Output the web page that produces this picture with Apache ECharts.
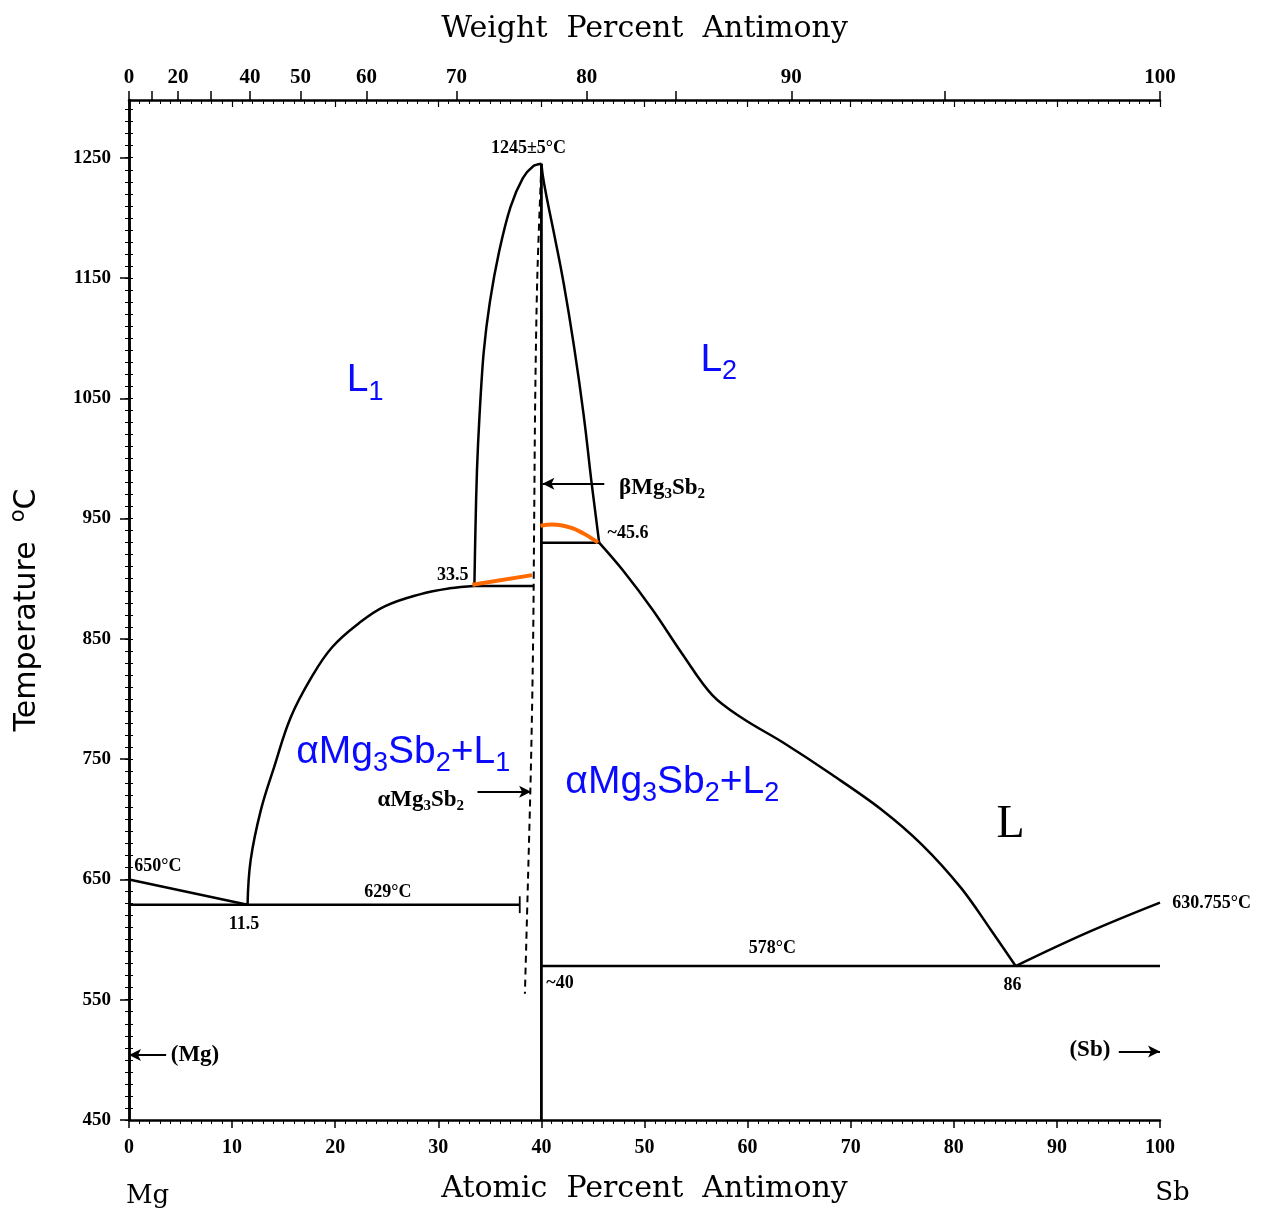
<!DOCTYPE html>
<html>
<head>
<meta charset="utf-8">
<script src="https://cdn.jsdelivr.net/npm/echarts@6/dist/echarts.min.js"></script>
<style>
html, body { margin: 0; padding: 0; background: #fff; }
#chart { width: 1267px; height: 1214px; }
</style>
</head>
<body>
<div id="chart"></div>
<script>
// phase boundaries, points are [atomic % Sb, temperature in C]
const mgLiquidus = [[0, 650], [11.5, 629]];
const eutectic629 = [[0, 629], [37.9, 629]];
const eutecticEnd = [[37.9, 622], [37.9, 636]];
const l1Liquidus = [[11.5, 629], [11.8, 666], [12.8, 708], [14.1, 744], [15.7, 785], [17.7, 818],
    [19.7, 843], [22.3, 863], [24.8, 877], [28.2, 887], [31.1, 892], [33.5, 894]];
const monotectic = [[33.5, 894], [39.3, 894]];
const domeLeft = [[33.5, 894], [33.6, 940], [33.75, 990], [34.0, 1036], [34.4, 1088], [35.0, 1130],
    [35.9, 1172], [37.0, 1209], [38.2, 1233], [39.2, 1243], [40, 1245]];
const domeRight = [[40, 1245], [40.25, 1229], [41.2, 1188], [42.15, 1146], [43.2, 1091], [44.1, 1036],
    [44.85, 981], [45.6, 930]];
const alphaBoundary = [[40, 1245], [39.6, 1150], [39.4, 1050], [39.3, 950], [39.2, 850], [39.0, 750],
    [38.7, 650], [38.4, 555]];
const compoundLine = [[40, 1245], [40, 450]];
const eutectic930 = [[40, 930], [45.6, 930]];
const l2Liquidus = [[45.6, 930], [47.9, 907], [50.8, 874], [53.7, 837], [56.6, 803], [59.5, 784],
    [63.4, 764], [68.2, 737], [73.0, 708], [76.9, 679], [80.7, 643], [83.6, 608], [86, 578]];
const eutectic578 = [[40, 578], [100, 578]];
const sbLiquidus = [[86, 578], [93, 606], [100, 630.755]];

// orange corrections drawn over the original
const orangeMonotectic = [[33.3, 895], [39.1, 903]];
const orangeBeta = [[39.9, 944], [41.0, 945], [41.9, 944.5], [43.0, 942], [44.0, 938], [44.8, 934], [45.5, 930]];

// arrows: [from, to]
const arrows = [
    [[3.6, 504], [0, 504]],
    [[96.0, 507], [100, 507]],
    [[33.8, 723], [39.0, 723]],
    [[46.1, 979], [40.1, 979]]
];

// tick labels
const atLabels = [0, 10, 20, 30, 40, 50, 60, 70, 80, 90, 100];
const wtLabels = [0, 20, 40, 50, 60, 70, 80, 90, 100];
const wtTicks = [0, 10, 20, 30, 40, 50, 60, 70, 80, 85, 90, 95, 100];
const tempLabels = [450, 550, 650, 750, 850, 950, 1050, 1150, 1250];

// text on the diagram: [atomic % Sb, temperature, text]
const smallNotes = [
    [38.75, 1258, '1245±5°C'], [31.4, 903, '33.5'], [48.4, 938, '~45.6'], [2.8, 661, '650°C'],
    [11.15, 613, '11.5'], [25.1, 639, '629°C'], [62.4, 593, '578°C'], [41.8, 564, '~40'],
    [85.7, 562, '86'], [105.0, 630.5, '630.755°C']
];
const phaseNotes = [
    [51.7, 975.6, 'βMg{s|3}Sb{s|2}'], [28.3, 716, 'αMg{s|3}Sb{s|2}'], [6.4, 504, '(Mg)'], [93.2, 508, '(Sb)']
];
const elementNotes = [[1.8, 387, 'Mg'], [101.2, 389, 'Sb']];
const bigNotes = [[85.5, 695, 'L']];
const blueNotes = [
    [22.9, 1065, 'L{s|1}'], [57.2, 1082, 'L{s|2}'],
    [26.6, 756, 'αMg{s|3}Sb{s|2}+L{s|1}'], [52.7, 731, 'αMg{s|3}Sb{s|2}+L{s|2}']
];

const MG = 24.305, SB = 121.76;
function wtToAt(w) {
    if (w >= 100) return 100;
    const s = w / SB, m = (100 - w) / MG;
    return 100 * s / (s + m);
}
function atToWt(a) {
    const s = a * SB, m = (100 - a) * MG;
    return 100 * s / (s + m);
}

const tempMinor = [];
for (let t = 450; t <= 1290; t += 10) tempMinor.push(t);

const black = '#000';
const blue = '#0a0aff';

function curve(data, opts) {
    opts = opts || {};
    return {
        type: 'line',
        data: data,
        symbol: 'none',
        smooth: opts.smooth || false,
        silent: true,
        z: opts.z || 3,
        lineStyle: { color: opts.color || black, width: opts.width || 2.5, type: opts.type || 'solid' }
    };
}

function notes(list, label) {
    return {
        type: 'scatter',
        clip: false,
        silent: true,
        symbolSize: 1,
        itemStyle: { color: 'rgba(0,0,0,0)', opacity: 1 },
        z: 6,
        data: list.map(n => ({ value: [n[0], n[1]], name: n[2] })),
        label: Object.assign({
            show: true,
            position: 'inside',
            align: 'center',
            verticalAlign: 'middle',
            opacity: 1,
            formatter: p => p.name
        }, label)
    };
}

const chart = echarts.init(document.getElementById('chart'));

const option = {
    animation: false,
    grid: { left: 129, right: 107, top: 100, bottom: 94 },
    xAxis: [
        {
            type: 'value', position: 'bottom', min: 0, max: 100, interval: 10,
            name: 'Atomic  Percent  Antimony', nameLocation: 'middle', nameGap: 54,
            nameTextStyle: { fontFamily: 'DejaVu Serif', fontSize: 30, color: black },
            axisLine: { lineStyle: { color: black, width: 2.5 } },
            axisTick: { length: 8, lineStyle: { color: black, width: 1.5 } },
            minorTick: { show: true, splitNumber: 10, length: 4, lineStyle: { color: black, width: 1 } },
            axisLabel: {
                customValues: atLabels, color: black, fontFamily: 'Liberation Serif',
                fontWeight: 'bold', fontSize: 20, margin: 18
            },
            splitLine: { show: false }
        },
        {
            type: 'value', position: 'top', min: 0, max: 100,
            name: 'Weight  Percent  Antimony', nameLocation: 'middle', nameGap: 56,
            nameTextStyle: { fontFamily: 'DejaVu Serif', fontSize: 30, color: black },
            axisLine: { lineStyle: { color: black, width: 2.5 } },
            axisTick: { customValues: wtTicks.map(wtToAt), length: 9, lineStyle: { color: black, width: 1.5 } },
            axisLabel: {
                customValues: wtLabels.map(wtToAt),
                formatter: v => String(Math.round(atToWt(v))),
                color: black, fontFamily: 'Liberation Serif', fontWeight: 'bold', fontSize: 21, margin: 12
            },
            splitLine: { show: false }
        },
        {
            type: 'value', position: 'top', min: 0, max: 100, interval: 10,
            axisLine: { show: false },
            axisTick: { inside: true, length: 7, lineStyle: { color: black, width: 1.2 } },
            minorTick: { show: true, splitNumber: 10, length: 4, lineStyle: { color: black, width: 1 } },
            axisLabel: { show: false },
            splitLine: { show: false }
        }
    ],
    yAxis: [
        {
            type: 'value', position: 'left', min: 450, max: 1298,
            name: 'Temperature  {sup|o}C', nameLocation: 'middle', nameGap: 82,
            nameTextStyle: {
                fontFamily: 'DejaVu Sans', fontSize: 30, color: black,
                rich: { sup: { fontFamily: 'DejaVu Sans', fontSize: 21, color: black, padding: [0, 0, 18, 0] } }
            },
            axisLine: { lineStyle: { color: black, width: 2.5 } },
            axisTick: { customValues: tempLabels, length: 9, lineStyle: { color: black, width: 1.5 } },
            axisLabel: {
                customValues: tempLabels, formatter: v => String(v), color: black,
                fontFamily: 'Liberation Serif', fontWeight: 'bold', fontSize: 19, margin: 18
            },
            splitLine: { show: false }
        },
        {
            type: 'value', position: 'left', min: 450, max: 1298,
            axisLine: { show: false },
            axisTick: { customValues: tempMinor, length: 4, lineStyle: { color: black, width: 1 } },
            axisLabel: { show: false },
            splitLine: { show: false }
        },
        {
            type: 'value', position: 'right', min: 450, max: 1298,
            axisLine: { show: true, lineStyle: { color: black, width: 2.5 } },
            axisTick: { customValues: tempMinor, length: 4, lineStyle: { color: black, width: 1 } },
            axisLabel: { show: false },
            splitLine: { show: false }
        }
    ],
    series: [
        curve(mgLiquidus),
        curve(eutectic629),
        curve(eutecticEnd, { width: 1.8 }),
        curve(l1Liquidus, { smooth: 0.4 }),
        curve(monotectic),
        curve(domeLeft, { smooth: 0.3 }),
        curve(domeRight, { smooth: 0.5 }),
        curve(alphaBoundary, { smooth: 0.3, type: [7, 5], width: 2 }),
        curve(compoundLine, { width: 2.8 }),
        curve(eutectic930),
        curve(l2Liquidus, { smooth: 0.35 }),
        curve(eutectic578),
        curve(sbLiquidus, { smooth: 0.4 }),
        curve(orangeMonotectic, { color: '#ff6a00', width: 4, z: 5 }),
        curve(orangeBeta, { color: '#ff6a00', width: 4, z: 5, smooth: 0.4 }),
        {
            type: 'line',
            data: [],
            silent: true,
            markLine: {
                silent: true,
                animation: false,
                symbol: ['none', 'arrow'],
                symbolSize: [9, 12],
                label: { show: false },
                lineStyle: { color: black, width: 1.8, type: 'solid', opacity: 1 },
                data: arrows.map(a => [{ coord: a[0] }, { coord: a[1] }])
            }
        },
        notes(smallNotes, {
            color: black, fontFamily: 'Liberation Serif', fontWeight: 'bold', fontSize: 18
        }),
        notes(phaseNotes, {
            color: black, fontFamily: 'Liberation Serif', fontWeight: 'bold', fontSize: 23,
            rich: { s: { color: black, fontFamily: 'Liberation Serif', fontWeight: 'bold', fontSize: 15, padding: [12, 0, 0, 0] } }
        }),
        notes(elementNotes, {
            color: black, fontFamily: 'DejaVu Serif', fontSize: 26
        }),
        notes(bigNotes, {
            color: black, fontFamily: 'Liberation Serif', fontSize: 46
        }),
        notes(blueNotes, {
            color: blue, fontFamily: 'Liberation Sans', fontSize: 39,
            rich: { s: { color: blue, fontFamily: 'Liberation Sans', fontSize: 27, padding: [24, 0, 0, 0] } }
        })
    ]
};

chart.setOption(option);
</script>
</body>
</html>
